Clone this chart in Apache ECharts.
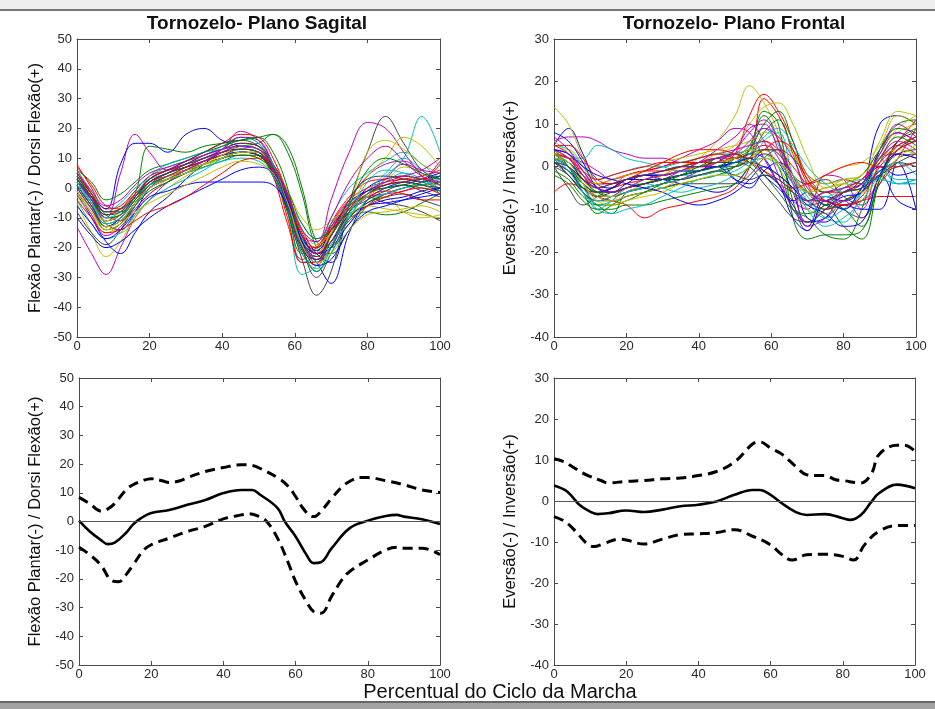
<!DOCTYPE html>
<html>
<head>
<meta charset="utf-8">
<script src="https://cdn.jsdelivr.net/npm/echarts@6/dist/echarts.min.js"></script>
<style>html,body{margin:0;padding:0;background:#fff}#c{width:935px;height:709px}</style>
</head>
<body>
<div id="c"></div>
<script>
// ---- DATA ----
const xs = [0,4,8,12,16,20,25,30,35,40,45,50,54,58,62,66,70,75,80,85,90,95,100];
const xTicks = [0,20,40,60,80,100];
const sagTicks = [-50,-40,-30,-20,-10,0,10,20,30,40,50];
const froTicks = [-40,-30,-20,-10,0,10,20,30];

// Sagittal plane individual curves (top-left)
const sag01 = [3,-4,-12,-14,-8,0,4,6,8,10,12,11,6,-3,-14,-22,-25,-8,0,3,4,3,1];
const sag02 = [1,-6,-13,-10,-4,2,5,8,10,12,14,15,18,14,0,-18,-20,-10,-2,1,2,1,-1];
const sag03 = [6,-2,-10,-9,-3,3,6,8,11,13,15,14,8,-8,-22,-26,-15,-5,-1,1,3,2,0];
const sag04 = [4,-3,-9,-7,-1,4,7,9,11,14,17,15,7,-5,-25,-22,-10,0,5,9,12,8,3];
const sag05 = [-13,-22,-29,-20,-10,-4,2,6,9,12,14,13,7,-4,-18,-22,-13,-4,4,8,9,5,1];
const sag06 = [-5,-15,-23,-18,-9,-2,3,7,10,12,13,12,6,-5,-20,-24,-15,-7,-3,-3,-8,-10,-9];
const sag07 = [-8,-15,-19,-14,-6,1,5,7,9,11,12,11,4,-8,-24,-36,-28,-5,12,24,15,6,3];
const sag08 = [-2,-10,-18,-22,-15,-8,-3,3,8,12,13,12,6,-5,-18,-25,-32,-15,-4,0,2,3,4];
const sag09 = [5,-2,-8,-8,-3,2,5,7,9,11,13,12,7,-2,-16,-22,-18,-10,-5,-2,0,1,2];
const sag10 = [8,0,-7,-6,-1,4,6,8,10,12,14,13,7,-5,-18,-20,-12,-4,0,2,3,4,6];
const sag11 = [0,-6,-14,-12,-6,0,3,6,9,13,17,15,8,-8,-29,-26,-14,-7,-2,4,10,24,12];
const sag12 = [2,-4,-10,5,18,12,6,8,10,13,17,16,8,-3,-16,-18,-4,12,22,20,12,4,-2];
const sag13 = [-3,-9,-15,-12,-5,0,3,6,9,11,13,12,7,-4,-17,-22,-16,-6,12,16,13,8,5];
const sag14 = [1,-6,-12,-10,-4,1,4,6,8,10,12,11,5,-6,-19,-25,-20,-8,-3,-5,-6,-8,-11];
const sag15 = [2,-3,-7,8,15,15,12,18,20,16,14,13,7,-4,-17,-21,-14,-5,-1,0,1,3,5];
const sag16 = [3,-4,-11,-9,-2,14,13,12,14,15,16,17,18,12,-2,-20,-22,-14,-6,-2,0,2,4];
const sag17 = [4,-3,-11,-9,-4,2,4,6,8,10,12,12,6,-10,-25,-25,-12,-3,2,3,4,3,8];
const sag18 = [6,-1,-8,-5,0,3,5,8,10,12,14,13,8,-3,-12,-17,-12,-5,-1,5,10,6,2];
const sag19 = [-1,-9,-16,-13,-7,-2,2,5,8,10,12,11,5,-6,-20,-23,-16,-7,-3,-2,-1,2,9];
const sag20 = [-1,-7,-12,-15,-10,-4,0,4,7,10,11,10,4,-6,-18,-22,-15,-8,4,10,17,14,7];
const sag21 = [4,-2,-9,-11,-5,0,3,5,8,10,11,11,5,-5,-20,-30,-22,-10,-5,-3,-2,-4,-6];
const sag22 = [2,-5,-13,-10,-3,2,5,7,9,11,12,11,5,-7,-18,-22,-18,-9,-6,-4,-3,-1,0];
const sag23 = [0,-7,-14,-12,-6,-1,2,5,8,10,12,11,4,-8,-22,-20,-14,-10,-8,-9,-8,-5,-2];
const sag24 = [5,-2,-9,-7,-2,2,5,7,9,11,13,12,4,-12,-24,-20,-13,-6,-3,-1,-2,-4,-4];
const sag25 = [-4,-12,-17,-15,-9,-4,0,3,6,10,13,12,7,-4,-17,-24,-18,-12,-4,-2,0,1,3];
const sag26 = [3,-4,-11,-9,-3,3,6,8,10,13,19,16,8,-4,-18,-24,-20,-8,-3,3,8,6,5];
const sag27 = [2,-5,-11,-9,-4,1,4,6,8,10,12,12,7,-1,-10,-14,-11,-6,-3,2,7,5,-1];
const sag28 = [1,-6,-13,-11,-5,1,4,7,10,12,13,12,6,-6,-20,-25,-18,-8,-4,-1,1,-1,-3];
const sag29 = [-6,-12,-17,-14,-8,-3,-1,1,2,2,2,2,1,-6,-16,-22,-20,-12,-6,-5,-4,-3,-2];
const sag30 = [4,-3,-10,-9,-4,1,3,5,7,9,11,10,6,-1,-12,-17,-14,-8,-2,0,1,0,-1];
const sag31 = [7,1,-6,-7,-2,3,6,9,12,15,18,17,10,-2,-16,-20,-14,-6,-2,1,2,3,1];
const sag32 = [1,-5,-10,-8,-3,1,3,5,7,9,10,9,4,-6,-20,-28,-22,-10,-2,2,5,3,-1];
const sag33 = [0,-7,-13,-11,-5,0,3,6,9,12,14,13,6,-6,-20,-24,-16,-6,-1,2,4,6,10];
const sag34 = [-2,-8,-13,-11,-5,0,3,5,8,11,14,13,8,-1,-14,-19,-15,-9,-6,-7,-8,-9,-10];
const sag35 = [3,-3,-8,-7,-3,2,5,8,11,13,15,14,8,-3,-18,-23,-16,-7,-1,1,2,1,0];
const sag36 = [-10,-16,-20,-18,-14,-10,-6,-3,0,3,6,7,5,-4,-18,-26,-24,-14,-8,-6,-4,-2,0];
const sag37 = [6,2,-4,-2,2,6,8,10,12,14,16,17,12,0,-20,-28,-20,-6,6,10,8,5,3];
const sag38 = [-4,-10,-15,-14,-11,-8,-6,-3,1,5,9,10,8,-2,-15,-22,-18,-11,-6,-3,-1,0,-2];
const sag39 = [2,-5,-12,-10,-3,4,8,10,12,13,14,13,8,-6,-22,-27,-19,-9,2,6,5,2,1];
const sag40 = [5,-1,-6,-4,1,5,7,9,11,13,14,13,7,-2,-14,-18,-10,2,10,14,9,4,2];
const sag41 = [-1,-8,-14,-12,-8,-5,-2,1,4,7,9,8,5,-5,-19,-25,-22,-14,-9,-8,-7,-6,-8];
const sag42 = [3,-3,-9,-8,-3,3,6,9,12,15,16,14,7,-6,-21,-24,-16,-4,3,4,3,2,4];

// Frontal plane individual curves (top-right)
const fro01 = [5,9,3,-4,-5,-3,-2,-2,-1,0,0,1,3,2,-4,-9,-14,-7,-8,-5,10,12,10];
const fro02 = [4,0,-6,-9,-11,-6,-5,-4,-3,-2,-1,2,5,12,6,-8,-15,-9,-14,-17,-3,6,9];
const fro03 = [-6,-4,-5,-7,-8,-9,-12,-10,-9,-8,-7,-5,0,16,12,4,-4,-10,-9,-8,-7,-7,-7];
const fro04 = [3,2,-4,-10,-8,-5,-4,-3,-2,-2,-1,0,4,9,5,-3,-8,-7,-10,-6,0,-4,-4];
const fro05 = [6,7,7,6,4,3,2,2,1,2,3,4,5,6,2,-4,-8,-8,-5,-3,2,3,2];
const fro06 = [14,10,2,-4,-6,-5,-4,-2,0,2,6,12,19,15,8,-2,-6,-2,0,1,5,12,10];
const fro07 = [0,-5,-9,-7,-5,-3,-2,-2,-1,0,1,1,2,-1,-4,-6,-8,-6,-10,-12,-4,2,3];
const fro08 = [3,1,-2,-4,-4,-3,-2,-3,-4,-5,-6,-4,0,3,1,-6,-13,-12,-8,-6,-2,-8,-10];
const fro09 = [2,0,-6,-11,-9,-7,-6,-5,-4,-3,-2,0,4,13,10,-12,-17,-16,-16,-15,-3,4,7];
const fro10 = [5,3,-2,-6,-5,-4,-3,-2,-1,0,1,3,12,17,13,6,-2,-6,-5,-3,2,6,11];
const fro11 = [4,2,2,5,4,2,1,0,-1,-1,0,1,2,4,3,-2,-7,-12,-13,-6,2,-4,-3];
const fro12 = [3,2,1,-1,-3,-2,-1,0,2,4,6,9,8,2,-4,-8,-10,-2,-3,-10,1,5,3];
const fro13 = [3,4,0,-5,-7,-6,-4,-2,0,1,3,5,10,14,15,10,2,-5,-3,-2,6,13,12];
const fro14 = [1,-2,-6,-8,-8,-7,-6,-5,-4,-4,-4,-4,-2,2,4,2,-2,-4,-3,-4,-1,1,0];
const fro15 = [8,6,1,-5,-6,-4,-2,-2,-1,-1,2,-3,-5,-1,1,-2,-12,-13,-9,-10,-10,1,-10];
const fro16 = [-2,-4,-8,-10,-10,-9,-9,-8,-7,-6,-5,-4,0,4,0,-10,-12,-16,-17,-10,4,10,11];
const fro17 = [2,0,-3,-4,-3,-2,-1,-1,0,1,1,2,3,5,3,-2,-6,-8,-9,-8,-4,2,9];
const fro18 = [1,0,-4,-9,-8,-5,-4,-5,-6,-5,-4,-2,0,6,8,-2,-8,-12,-10,-6,-1,-3,-3];
const fro19 = [4,3,-1,-5,-6,-5,-4,-3,-1,1,4,7,10,6,-2,-10,-13,-10,-8,-12,-2,4,6];
const fro20 = [6,3,-3,-7,-8,-7,-6,-5,-3,-2,-1,0,2,4,0,-6,-10,-11,-8,-5,2,8,10];
const fro21 = [2,-2,-5,-6,-5,-3,-2,-1,0,1,2,2,3,4,4,-2,-4,-3,-7,-9,-2,6,8];
const fro22 = [1,-1,-4,-6,-5,-3,-3,-3,-2,-1,0,1,2,-2,-5,-8,-6,-9,-7,-6,4,8,6];
const fro23 = [3,1,-3,-6,-7,-6,-5,-4,-3,-2,-1,0,2,8,11,3,-6,-9,-10,-14,-3,5,6];
const fro24 = [4,2,-2,-4,-4,-2,-1,0,1,1,2,3,4,6,4,0,-4,-6,-6,-3,1,5,7];
const fro25 = [5,4,0,-3,-2,-1,0,0,1,2,3,3,4,3,1,-3,-6,-7,-5,-3,-3,-4,-4];
const fro26 = [2,0,-4,-7,-7,-6,-5,-4,-3,-1,1,4,9,10,4,-4,-14,-12,-6,-4,3,8,6];
const fro27 = [3,2,-2,-4,-3,-2,-1,1,2,3,4,5,6,8,7,3,-2,-4,-3,-2,4,9,12];
const fro28 = [0,-2,-6,-8,-7,-5,-4,-3,-2,-1,0,0,1,0,-2,-5,-8,-10,-8,-6,-2,0,1];
const fro29 = [2,1,-3,-5,-6,-5,-4,-3,-2,-1,0,-3,-4,-2,-4,-12,-15,-8,-10,-5,0,-2,-1];
const fro30 = [3,0,-4,-6,-6,-5,-4,-3,-2,-1,0,2,4,10,13,6,-3,-6,-4,-2,4,9,8];
const fro31 = [3,2,-1,-3,-2,-1,0,1,1,2,3,2,1,-1,-3,-5,-4,-2,0,1,0,0,1];
const fro32 = [2,0,-5,-8,-7,-6,-5,-4,-3,-2,-1,1,3,7,9,5,0,-4,-6,-4,-3,-4,-3];
const fro33 = [4,2,-2,-5,-4,-3,-2,-1,0,0,1,4,8,11,6,-3,-8,-6,-5,-4,2,6,4];
const fro34 = [2,1,-4,-7,-7,-5,-3,-2,-1,0,1,2,4,3,1,-3,-6,-5,-4,-2,2,4,3];
const fro35 = [1,-1,-5,-7,-6,-5,-4,-3,-3,-2,-1,-2,-3,-2,-3,-6,-9,-8,-6,-5,-1,3,4];
const fro36 = [4,3,0,-2,-3,-4,-5,-6,-8,-9,-8,-6,-3,0,-2,-5,-9,-11,-14,-13,-2,3,2];
const fro37 = [-1,-3,-7,-9,-9,-8,-6,-4,-2,0,2,3,1,-2,-6,-10,-11,-9,-6,-4,2,7,5];
const fro38 = [5,5,2,-3,-4,-3,-1,1,3,4,4,3,2,4,6,4,-3,-8,-9,-7,0,4,6];
const fro39 = [2,-1,-6,-10,-11,-10,-9,-7,-5,-3,-2,-1,1,2,0,-4,-10,-14,-12,-8,-2,1,-2];
const fro40 = [7,4,-1,-5,-6,-5,-3,-2,-1,1,2,3,6,9,7,2,-5,-8,-6,-4,3,10,7];
const fro41 = [3,1,-4,-8,-9,-8,-7,-6,-4,-3,-2,-2,0,2,1,-2,-6,-5,-4,-6,-3,2,5];
const fro42 = [1,0,-3,-5,-4,-3,-2,-1,0,0,1,1,0,-4,-8,-12,-13,-10,-6,-5,-2,1,3];

// Mean and +/- SD (bottom-left, sagittal)
const sagMeanX = [0,3,6,8,10,13,15,17,20,25,30,35,40,45,48,50,55,57,60,63,65,67,70,75,80,85,88,90,95,100];
const sagMean  = [0.3,-3.5,-6.4,-7.9,-7.3,-4,-1,1,3,4,5.8,7.5,9.9,11,11,9.5,4.7,0,-5.2,-11.6,-14.5,-14.2,-9.3,-2.3,0.3,1.9,2.3,1.7,0.8,-0.9];
const sagUpX = [0,3,6,8,10,13,15,18,20,23,25,28,30,35,40,45,48,50,55,58,60,62,64,65,67,70,73,75,78,80,85,90,95,100];
const sagUp  = [8.4,6.2,3.7,4.4,6.4,11,12.8,14.4,14.9,14.2,13.6,14.2,15.3,17.4,18.8,19.8,19.5,18.6,15.3,12.2,8.7,4.7,2,1.7,3.5,8.1,12.2,14,15.3,15.3,14.2,12.8,11,10.1];
const sagLoX = [0,3,6,9,11,13,15,18,20,25,30,35,40,45,47,50,52,55,58,60,63,65,67,70,73,75,80,85,88,90,95,100];
const sagLo  = [-9,-11.6,-15.1,-20.5,-21,-18.6,-15.1,-9.9,-8.1,-5.8,-3.5,-1.7,0.9,2.3,2.7,1.7,0,-5.8,-14.5,-20.9,-27.9,-31.4,-32,-26,-20,-17.4,-13.4,-9.9,-9,-9.3,-9.3,-11.6];

// Mean and +/- SD (bottom-right, frontal)
const froMeanX = [0,3,5,7,10,12,15,20,25,30,35,40,45,50,55,57,60,63,67,70,75,80,82,85,88,90,95,100];
const froMean  = [3.8,2.7,1.1,-0.9,-2.6,-3.2,-3,-2.3,-2.7,-2.1,-1.3,-0.9,-0.1,1.5,2.7,2.7,1.5,-0.5,-2.7,-3.4,-3.2,-4.2,-4.6,-3.4,-0.1,1.9,4,3.1];
const froUpX = [0,3,5,8,10,13,15,20,25,30,35,40,45,50,55,57,60,63,67,70,73,75,78,80,85,88,90,95,97,100];
const froUp  = [10.3,9.5,8.4,6.8,6,5,4.4,4.8,5,5.4,5.6,6.2,7.2,9.5,13.9,14.4,12.9,11.5,8.4,6.4,6.2,6.2,5.2,5,4.4,6.8,11.3,13.6,13.6,12.1];
const froLoX = [0,3,6,9,11,14,18,20,25,30,35,40,45,50,55,60,63,66,70,75,80,83,86,90,95,100];
const froLo  = [-3.8,-5,-7.4,-10.3,-11.1,-10.3,-9.3,-9.5,-10.5,-9.3,-8.2,-8,-7.7,-7,-8.6,-10.7,-13,-14.4,-13.1,-13,-13.5,-14.4,-10.7,-7.4,-6,-6];

const sagLines = [sag01,sag02,sag03,sag04,sag05,sag06,sag07,sag08,sag09,sag10,sag11,sag12,sag13,sag14,sag15,sag16,sag17,sag18,sag19,sag20,sag21,sag22,sag23,sag24,sag25,sag26,sag27,sag28,sag29,sag30,sag31,sag32,sag33,sag34,sag35,sag36,sag37,sag38,sag39,sag40,sag41,sag42];
const froLines = [fro01,fro02,fro03,fro04,fro05,fro06,fro07,fro08,fro09,fro10,fro11,fro12,fro13,fro14,fro15,fro16,fro17,fro18,fro19,fro20,fro21,fro22,fro23,fro24,fro25,fro26,fro27,fro28,fro29,fro30,fro31,fro32,fro33,fro34,fro35,fro36,fro37,fro38,fro39,fro40,fro41,fro42];

const palette = ['#0000ff','#008000','#ff0000','#00bfbf','#bf00bf','#bfbf00','#404040'];
const sagName = 'Flexão Plantar(-) / Dorsi Flexão(+)';
const froName = 'Eversão(-) / Inversão(+)';

// ---- CHART ----
const FONT = 'Liberation Sans, Arial, sans-serif';
const AX = '#4a4a4a';
const grids = [
  {left: 77, top: 39, width: 363, height: 298},
  {left: 554, top: 39, width: 362, height: 298},
  {left: 79, top: 378, width: 361, height: 287},
  {left: 554, top: 378, width: 361, height: 287}
];
const xAxes = [], yAxes = [];
function addAxes(g, ticks, name, gap) {
  const common = {gridIndex: g, type: 'value', splitLine: {show: false},
    axisLine: {show: true, onZero: false, lineStyle: {color: AX, width: 1}},
    axisTick: {show: true, inside: true, length: 4, lineStyle: {color: AX}}};
  xAxes.push(Object.assign({}, common, {position: 'bottom', min: xTicks[0], max: xTicks[xTicks.length-1], interval: xTicks[1]-xTicks[0],
    axisLabel: {show: true, margin: 3, color: '#2a2a2a', fontSize: 13, fontFamily: FONT}}));
  xAxes.push(Object.assign({}, common, {position: 'top', min: xTicks[0], max: xTicks[xTicks.length-1], interval: xTicks[1]-xTicks[0],
    axisLabel: {show: false}}));
  yAxes.push(Object.assign({}, common, {position: 'left', min: ticks[0], max: ticks[ticks.length-1], interval: ticks[1]-ticks[0],
    axisLabel: {show: true, margin: 5, color: '#2a2a2a', fontSize: 13, fontFamily: FONT},
    name: name, nameLocation: 'middle', nameGap: gap, nameRotate: 90,
    nameTextStyle: {color: '#111', fontSize: 16.5, fontFamily: FONT}}));
  yAxes.push(Object.assign({}, common, {position: 'right', min: ticks[0], max: ticks[ticks.length-1], interval: ticks[1]-ticks[0],
    axisLabel: {show: false}}));
}
addAxes(0, sagTicks, sagName, 33);
addAxes(1, froTicks, froName, 35);
addAxes(2, sagTicks, sagName, 35);
addAxes(3, froTicks, froName, 35);

function pairs(xArr, yArr) { return xArr.map((x, i) => [x, yArr[i]]); }
const series = [];
sagLines.forEach((ys, i) => series.push({type: 'line', xAxisIndex: 0, yAxisIndex: 0, data: pairs(xs, ys),
  smooth: 0.4, showSymbol: false, silent: true, lineStyle: {width: 1, color: palette[i % 7]}}));
froLines.forEach((ys, i) => series.push({type: 'line', xAxisIndex: 2, yAxisIndex: 2, data: pairs(xs, ys),
  smooth: 0.4, showSymbol: false, silent: true, lineStyle: {width: 1, color: palette[i % 7]}}));

function meanSD(ax, mx, m, ux, u, lx, l) {
  series.push({type: 'line', xAxisIndex: ax, yAxisIndex: ax, data: pairs(mx, m), smooth: 0.4, showSymbol: false, silent: true,
    lineStyle: {width: 2.6, color: '#000'},
    markLine: {silent: true, symbol: 'none', label: {show: false}, animation: false,
      lineStyle: {color: '#555', width: 1, type: 'solid'}, data: [{yAxis: 0}]}});
  series.push({type: 'line', xAxisIndex: ax, yAxisIndex: ax, data: pairs(ux, u), smooth: 0.4, showSymbol: false, silent: true,
    lineStyle: {width: 3, color: '#000', type: [10, 6]}});
  series.push({type: 'line', xAxisIndex: ax, yAxisIndex: ax, data: pairs(lx, l), smooth: 0.4, showSymbol: false, silent: true,
    lineStyle: {width: 3, color: '#000', type: [10, 6]}});
}
meanSD(4, sagMeanX, sagMean, sagUpX, sagUp, sagLoX, sagLo);
meanSD(6, froMeanX, froMean, froUpX, froUp, froLoX, froLo);

const chart = echarts.init(document.getElementById('c'), null, {renderer: 'canvas'});
chart.setOption({
  animation: false,
  backgroundColor: '#ffffff',
  grid: grids,
  xAxis: xAxes,
  yAxis: yAxes,
  series: series,
  graphic: [
    {type: 'rect', shape: {x: 0, y: 0, width: 935, height: 9}, style: {fill: '#eeeeee'}, silent: true},
    {type: 'rect', shape: {x: 0, y: 9, width: 935, height: 2}, style: {fill: '#777777'}, silent: true},
    {type: 'rect', shape: {x: 0, y: 701, width: 935, height: 2}, style: {fill: '#666666'}, silent: true},
    {type: 'rect', shape: {x: 0, y: 703, width: 935, height: 6}, style: {fill: '#a3a3a3'}, silent: true},
    {type: 'text', x: 257, y: 24, style: {text: 'Tornozelo- Plano Sagital', textAlign: 'center', textVerticalAlign: 'middle', font: 'bold 19px ' + FONT, fill: '#111'}, silent: true},
    {type: 'text', x: 734, y: 24, style: {text: 'Tornozelo- Plano Frontal', textAlign: 'center', textVerticalAlign: 'middle', font: 'bold 19px ' + FONT, fill: '#111'}, silent: true},
    {type: 'text', x: 500, y: 692, style: {text: 'Percentual do Ciclo da Marcha', textAlign: 'center', textVerticalAlign: 'middle', font: '20px ' + FONT, fill: '#111'}, silent: true}
  ]
});
</script>
</body>
</html>
